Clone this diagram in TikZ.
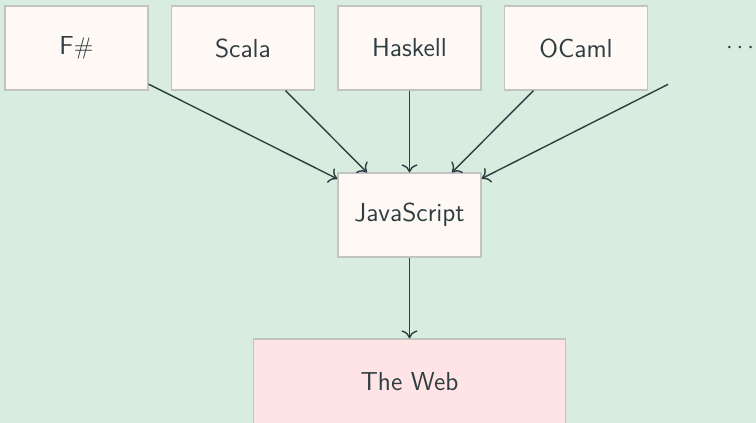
\documentclass[tikz,border=0pt]{standalone}
\usepackage{tikz}
\usetikzlibrary{arrows.meta}
\usetikzlibrary{shapes}

\definecolor{bgreen}{HTML}{D8EDE0}
\definecolor{boxfill}{HTML}{FFF9F5}
\definecolor{webfill}{HTML}{FEE4E4}
\definecolor{boxline}{HTML}{C2C4C2}
\definecolor{ink}{HTML}{2E3D42}

\begin{document}
\begin{tikzpicture}[x=0.5pt,y=-0.5pt,font=\sffamily\fontsize{13}{15}\selectfont,text=ink,
  lang/.style={rectangle,fill=boxfill,draw=boxline,line width=0.6pt,minimum width=71.5pt,minimum height=42pt},
  flow/.style={draw=ink,line width=0.7pt,-{To[length=4pt,width=8pt]}}]
\fill[bgreen] (0,0) rectangle (756,423);
\useasboundingbox (0,0) rectangle (756,423);

\node(fs) at (76.5,48) [lang]{F$\#$};
\node(sc) at (243,48) [lang]{Scala};
\node(hs) at (409.5,48) [lang]{Haskell};
\node(ml) at (576,48) [lang]{OCaml};
\node(more) at (740,48) [rectangle,minimum width=71.5pt,minimum height=42pt]{$\cdots$};
\node(js) at (409.5,215) [lang]{JavaScript};
\node(web) at (409.5,382) [lang,fill=webfill,minimum width=156pt,minimum height=43pt]{The Web};

\draw[flow] (fs) -- (js);
\draw[flow] (sc) -- (js);
\draw[flow] (hs) -- (js);
\draw[flow] (ml) -- (js);
\draw[flow] (more) -- (js);
\draw[flow] (js) -- (web);
\end{tikzpicture}
\end{document}
